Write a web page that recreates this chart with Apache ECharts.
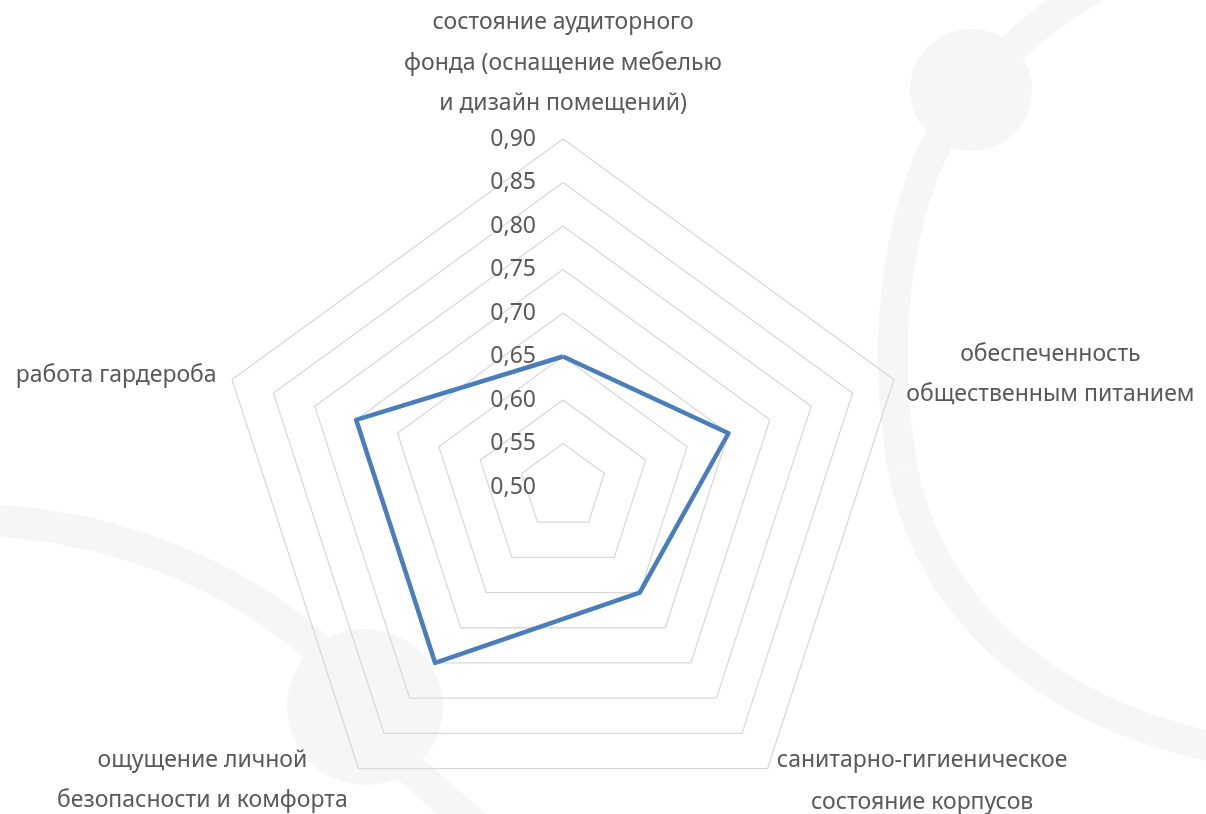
<!DOCTYPE html>
<html>
<head>
<meta charset="utf-8">
<script src="https://cdn.jsdelivr.net/npm/echarts@6/dist/echarts.min.js"></script>
<style>
  html, body { margin: 0; padding: 0; background: #fff; }
  #chart { width: 1206px; height: 814px; }
</style>
</head>
<body>
<div id="chart"></div>
<script>
// indicators in echarts order (counter-clockwise, starting at the top)
const categories = [
  'состояние аудиторного\nфонда (оснащение мебелью\nи дизайн помещений)',
  'работа гардероба',
  'ощущение личной\nбезопасности и комфорта',
  'санитарно-гигиеническое\nсостояние корпусов',
  'обеспеченность\nобщественным питанием'
]
const values = [0.65, 0.75, 0.75, 0.65, 0.70]
const axisMin = 0.5
const axisMax = 0.9
const splitCount = 8

const textColor = '#595959'
const fontFamily = "'Noto Sans', 'Open Sans', sans-serif"
const fontSize = 23
const decoColor = '#f6f6f6'

// per-label line heights / widths to place the wrapped names like the original
const nameLayout = [
  { width: 300, lineHeights: [50, 32, 48] },
  { width: 0, lineHeights: [40], padRight: 4 },
  { width: 298, lineHeights: [43.6, 36.4] },
  { width: 295, lineHeights: [47.6, 36.4] },
  { width: 290, lineHeights: [36.4, 43.6] }
]

const rich = {}
nameLayout.forEach((l, i) => {
  l.lineHeights.forEach((h, j) => {
    const st = { color: textColor, fontSize, fontFamily, lineHeight: h, align: 'center' }
    if (l.width) st.width = l.width
    if (l.padRight) st.padding = [0, l.padRight, 0, 0]
    rich['n' + i + '_' + j] = st
  })
})

function curve(x1, y1, cpx1, cpy1, cpx2, cpy2, x2, y2, w) {
  return {
    type: 'bezierCurve', z: -10, silent: true,
    shape: { x1, y1, cpx1, cpy1, cpx2, cpy2, x2, y2 },
    style: { fill: null, stroke: decoColor, lineWidth: w }
  }
}

const chart = echarts.init(document.getElementById('chart'), null, { renderer: 'canvas' })

chart.setOption({
  backgroundColor: '#fff',
  animation: false,
  graphic: {
    elements: [
      // faint background decoration
      curve(1095, -12, 1050, 12, 1005, 50, 965, 100, 30),
      curve(965, 100, 900, 180, 878, 330, 903, 470, 30),
      curve(903, 470, 930, 610, 1050, 720, 1240, 752, 30),
      { type: 'circle', z: -10, silent: true, shape: { cx: 971, cy: 90, r: 61 }, style: { fill: decoColor } },
      curve(-10, 520, 100, 526, 230, 565, 330, 660, 32),
      {
        type: 'line', z: -10, silent: true,
        shape: { x1: 400, y1: 760, x2: 480, y2: 830 },
        style: { stroke: decoColor, lineWidth: 32 }
      },
      { type: 'circle', z: -10, silent: true, shape: { cx: 365, cy: 707, r: 78 }, style: { fill: decoColor } }
    ]
  },
  radar: {
    center: [563, 487],
    radius: 348,
    startAngle: 90,
    shape: 'polygon',
    splitNumber: splitCount,
    nameGap: 12,
    axisName: {
      color: textColor,
      fontSize,
      fontFamily,
      formatter: function (name) {
        const i = categories.indexOf(name)
        return name.split('\n').map((s, j) => '{n' + i + '_' + j + '|' + s + '}').join('\n')
      },
      rich
    },
    axisLine: { show: false },
    axisTick: { show: false },
    splitArea: { show: false },
    splitLine: { lineStyle: { color: '#d9d9d9', width: 1.3 } },
    indicator: categories.map((name, i) => ({
      name,
      min: axisMin,
      max: axisMax,
      axisLabel: i === 0 ? {
        show: true,
        margin: 27,
        color: textColor,
        fontSize,
        fontFamily,
        formatter: v => v.toFixed(2).replace('.', ',')
      } : { show: false }
    }))
  },
  series: [{
    type: 'radar',
    symbol: 'none',
    lineStyle: { color: '#4a7ebb', width: 4.5 },
    data: [{ value: values }]
  }]
})
</script>
</body>
</html>
